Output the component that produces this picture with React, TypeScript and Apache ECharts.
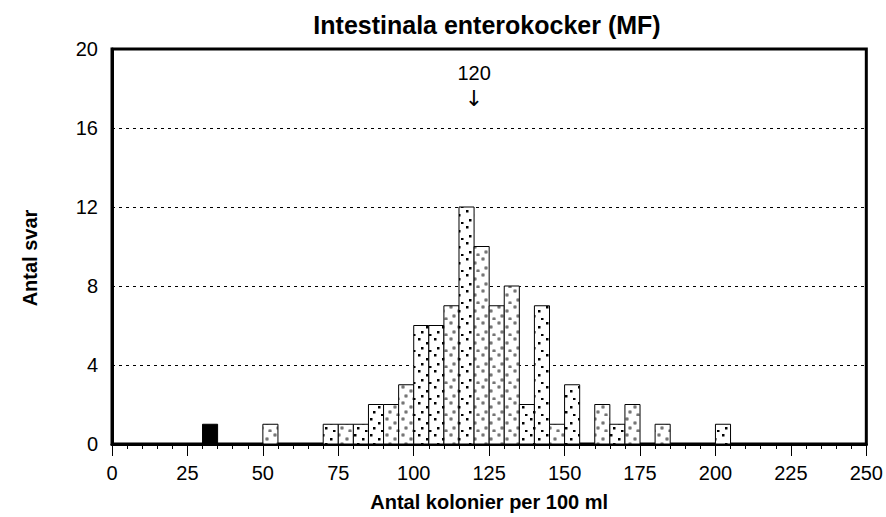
import React, { useEffect, useRef } from "react";
import * as echarts from "echarts";

const binStarts = [30, 50, 70, 75, 80, 85, 90, 95, 100, 105, 110, 115, 120, 125, 130, 135, 140, 145, 150, 160, 165, 170, 180, 200];
const counts = [1, 1, 1, 1, 1, 2, 2, 3, 6, 6, 7, 12, 10, 7, 8, 2, 7, 1, 3, 2, 1, 2, 1, 1];
const fillKinds = ["solid", "gray", "sq", "gray", "sq", "sq", "gray", "gray", "sq", "sq", "gray", "sq", "gray", "gray", "gray", "sq", "sq", "gray", "sq", "gray", "sq", "gray", "gray", "sq"];
const binWidth = 5;
const titleText = "Intestinala enterokocker (MF)";
const xName = "Antal kolonier per 100 ml";
const yName = "Antal svar";
const markerValue = 120;
const markerLabels = ["120", "↓"];
const markerHeights = [18.8, 17.5];

const FONT = "'Liberation Sans', Arial, sans-serif";

function makePattern(kind: string) {
  const size = 16;
  const c = document.createElement("canvas");
  c.width = size;
  c.height = size;
  const ctx = c.getContext("2d")!;
  ctx.fillStyle = "#fff";
  ctx.fillRect(0, 0, size, size);
  if (kind === "sq") {
    ctx.fillStyle = "#000";
    const pts = [[2, 2], [10, 6], [5, 11], [13, 14]];
    pts.forEach(([x, y]) => ctx.fillRect(x, y, 2.5, 2.5));
  } else {
    const pts = [[3, 3], [11, 7], [6, 12], [14, 15]];
    pts.forEach(([x, y]) => {
      ctx.fillStyle = "#a0a0a0";
      ctx.beginPath();
      ctx.arc(x, y, 2, 0, Math.PI * 2);
      ctx.fill();
      ctx.fillStyle = "#555";
      ctx.fillRect(x - 0.75, y - 0.75, 1.5, 1.5);
    });
  }
  return { image: c.toDataURL(), repeat: "repeat", imageWidth: size, imageHeight: size } as any;
}

export default function App() {
  const ref = useRef<HTMLDivElement>(null);
  useEffect(() => {
    if (!ref.current) return;
    const chart = echarts.init(ref.current, undefined, { renderer: "svg" });
    const patterns: Record<string, any> = { sq: makePattern("sq"), gray: makePattern("gray"), solid: "#000" };
    const barData = binStarts.map((s, i) => [s, s + binWidth, counts[i], i]);
    chart.setOption({
      animation: false,
      backgroundColor: "#fff",
      textStyle: { fontFamily: FONT, color: "#000" },
      title: {
        text: titleText,
        left: 487,
        textAlign: "center",
        top: 12,
        padding: 0,
        textStyle: { fontFamily: FONT, fontSize: 25, fontWeight: "bold", color: "#000" },
      },
      grid: {
        left: 112,
        right: 19,
        top: 49,
        bottom: 71,
        show: true,
        borderColor: "#000",
        borderWidth: 3,
        backgroundColor: "transparent",
      },
      xAxis: {
        type: "value",
        min: 0,
        max: 250,
        interval: 25,
        name: xName,
        nameLocation: "middle",
        nameGap: 48,
        nameTextStyle: { fontFamily: FONT, fontSize: 20, fontWeight: "bold", color: "#000" },
        axisLine: { show: true, lineStyle: { color: "#000", width: 3 } },
        axisTick: { show: true, length: 12, lineStyle: { color: "#000", width: 1 } },
        minorTick: { show: true, splitNumber: 5, length: 5, lineStyle: { color: "#000", width: 1 } },
        axisLabel: { fontFamily: FONT, fontSize: 20, color: "#000", margin: 19 },
        splitLine: { show: false },
      },
      yAxis: {
        type: "value",
        min: 0,
        max: 20,
        interval: 4,
        axisLine: { show: true, lineStyle: { color: "#000", width: 3 } },
        axisTick: { show: false },
        axisLabel: { fontFamily: FONT, fontSize: 20, color: "#000", margin: 14 },
        splitLine: { show: true, lineStyle: { color: "#000", width: 1, type: [3, 4] } },
      },
      graphic: [
        {
          type: "text",
          x: 30,
          y: 258,
          rotation: Math.PI / 2,
          style: {
            text: yName,
            fontFamily: FONT,
            fontSize: 20,
            fontWeight: "bold",
            fill: "#000",
            textAlign: "center",
            textVerticalAlign: "middle",
          },
        },
      ],
      series: [
        {
          type: "custom",
          data: barData,
          encode: { x: [0, 1], y: 2 },
          clip: true,
          renderItem: (params: any, api: any) => {
            const x0 = api.value(0);
            const x1 = api.value(1);
            const y = api.value(2);
            const idx = api.value(3);
            const p0 = api.coord([x0, y]);
            const p1 = api.coord([x1, 0]);
            return {
              type: "rect",
              shape: { x: p0[0], y: p0[1], width: p1[0] - p0[0], height: p1[1] - p0[1] },
              style: { fill: patterns[fillKinds[idx]], stroke: "#000", lineWidth: 1 },
            };
          },
          z: 3,
        },
        {
          type: "scatter",
          symbolSize: 0,
          silent: true,
          itemStyle: { opacity: 1, color: "#000" },
          data: markerLabels.map((t, i) => ({
            name: t,
            value: [markerValue, markerHeights[i]],
            label: i === 1 ? { fontFamily: "'DejaVu Sans', sans-serif", fontSize: 22 } : undefined,
          })),
          label: {
            show: true,
            position: "inside",
            formatter: (p: any) => p.name,
            fontFamily: FONT,
            fontSize: 20,
            color: "#000",
            opacity: 1,
          },
          emphasis: { disabled: true },
          z: 4,
        },
      ],
    });
    return () => chart.dispose();
  }, []);
  return <div ref={ref} style={{ position: "fixed", left: 0, top: 0, width: 886, height: 517 }} />;
}
